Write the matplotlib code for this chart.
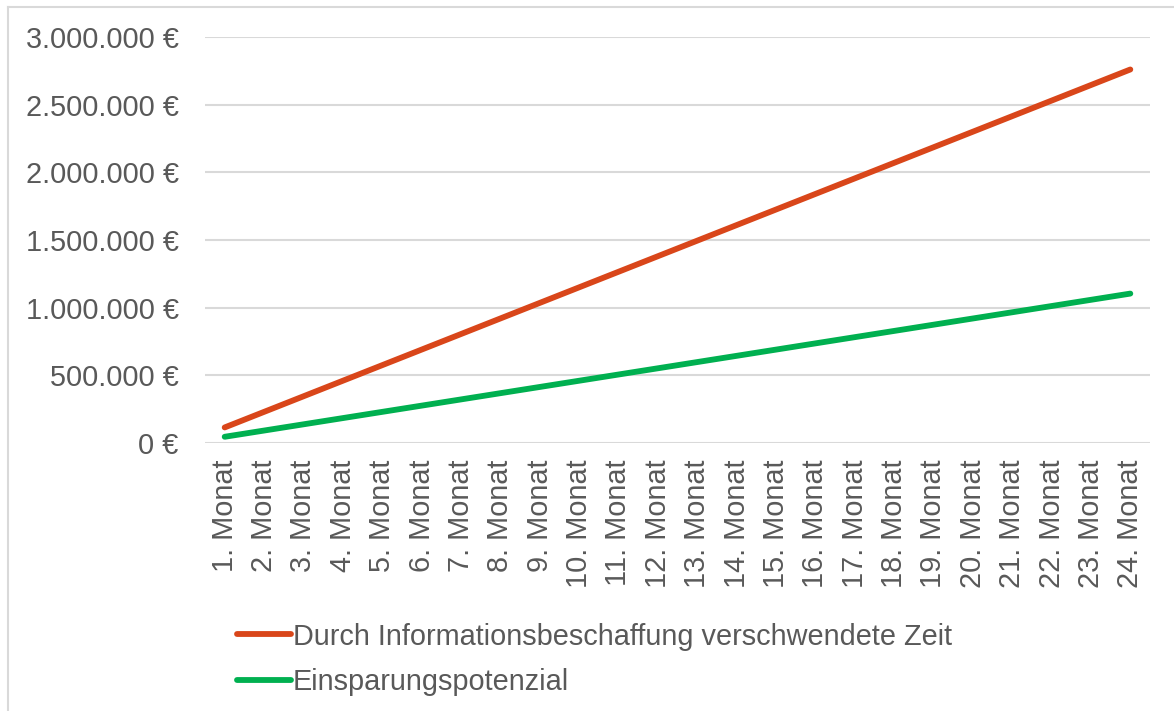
import numpy as np
import matplotlib.pyplot as plt
from matplotlib.lines import Line2D
from matplotlib.ticker import FuncFormatter

plt.rcParams['font.family'] = ['Liberation Sans', 'DejaVu Sans']

# data
months = ['%d. Monat' % i for i in range(1, 25)]
zeit = [115000, 230000, 345000, 460000, 575000, 690000, 805000, 920000,
        1035000, 1150000, 1265000, 1380000, 1495000, 1610000, 1725000, 1840000,
        1955000, 2070000, 2185000, 2300000, 2415000, 2530000, 2645000, 2760000]
einsparung = [46000, 92000, 138000, 184000, 230000, 276000, 322000, 368000,
              414000, 460000, 506000, 552000, 598000, 644000, 690000, 736000,
              782000, 828000, 874000, 920000, 966000, 1012000, 1058000, 1104000]
yticks = [0, 500000, 1000000, 1500000, 2000000, 2500000, 3000000]

txt = '#595959'
fs = 20.8
fig = plt.figure(figsize=(11.74, 7.11), dpi=100)
ax = fig.add_axes([205/1174, 1 - 443/711, 945/1174, 406/711])

x = np.arange(len(months))
ax.plot(x, zeit, color='#D9461A', lw=4.2, solid_capstyle='round',
        label='Durch Informationsbeschaffung verschwendete Zeit')
ax.plot(x, einsparung, color='#00B050', lw=4.2, solid_capstyle='round',
        label='Einsparungspotenzial')

ax.set_xlim(-0.5, len(months) - 0.5)
ax.set_ylim(0, 3000000)
ax.set_yticks(yticks)
ax.yaxis.set_major_formatter(FuncFormatter(
    lambda v, p: '{:,.0f} €'.format(v).replace(',', '.')))
ax.set_xticks(x)
ax.set_xticklabels(months, rotation=90, va='top', ha='center')
ax.grid(axis='y', color='#D9D9D9', lw=1.5)
ax.set_axisbelow(True)
for s in ax.spines.values():
    s.set_visible(False)
ax.tick_params(length=0, labelsize=fs, colors=txt)
ax.tick_params(axis='y', pad=19)
ax.tick_params(axis='x', pad=12)

leg = fig.legend(loc='upper left', bbox_to_anchor=(225/1174, 1 - 611/711),
                 frameon=False, fontsize=fs, handlelength=1.9, handletextpad=0.05,
                 labelspacing=0.6, borderaxespad=0)
for t in leg.get_texts():
    t.set_color(txt)

# outer frame (top and left edges)
fig.add_artist(Line2D([8/1174, 1], [1 - 7/711, 1 - 7/711], color='#D9D9D9', lw=1.5,
                      transform=fig.transFigure))
fig.add_artist(Line2D([8/1174, 8/1174], [0, 1 - 7/711], color='#D9D9D9', lw=1.5,
                      transform=fig.transFigure))

fig.savefig('out.png', dpi=100)
